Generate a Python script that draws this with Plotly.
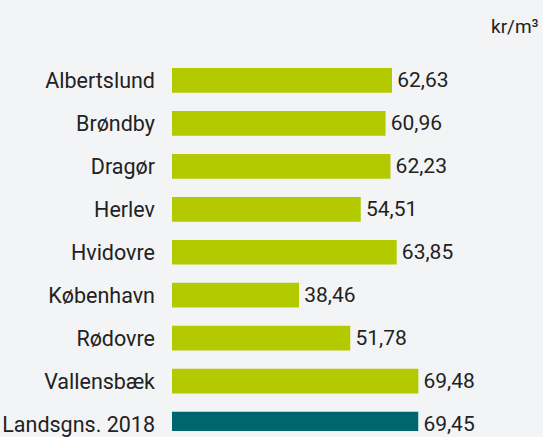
import plotly.graph_objects as go

categories = ["Albertslund", "Brøndby", "Dragør", "Herlev", "Hvidovre",
              "København", "Rødovre", "Vallensbæk", "Landsgns. 2018"]
values = [62.63, 60.96, 62.23, 54.51, 63.85, 38.46, 51.78, 69.48, 69.45]
unit_label = "kr/m³"

LIME = "#b3c900"
TEAL = "#00666e"
colors = [LIME] * 8 + [TEAL]

font_family = "Roboto, 'Open Sans', sans-serif"
text_color = "#222222"

fig = go.Figure(go.Bar(
    x=values,
    y=list(range(len(categories))),
    orientation="h",
    marker=dict(color=colors, line=dict(width=0)),
    texttemplate="\u200a%{x:.2f}",
    textposition="outside",
    textfont=dict(size=21, color=text_color, family=font_family),
    cliponaxis=False,
    width=0.575,
))

fig.update_layout(
    width=543, height=437,
    margin=dict(l=172, r=13, t=40, b=0),
    paper_bgcolor="#f3f4f6",
    plot_bgcolor="#f3f4f6",
    separators=", ",
    showlegend=False,
    font=dict(family=font_family, color=text_color, size=21),
    xaxis=dict(range=[5.45, 98.5], visible=False, fixedrange=True),
    yaxis=dict(
        range=[8.16, -0.94],
        tickmode="array",
        tickvals=list(range(len(categories))),
        ticktext=categories,
        showgrid=False, zeroline=False, showline=False,
        ticks="", ticklabelstandoff=16,
        ticklabeloverflow="allow",
        tickfont=dict(size=21.5, color=text_color, family=font_family),
    ),
    annotations=[dict(
        text=unit_label, xref="paper", yref="paper", x=1.03, y=1.035,
        xanchor="right", yanchor="middle", showarrow=False,
        font=dict(size=19, color=text_color, family=font_family),
    )],
)

fig.write_html(
    "out.html",
    config={"displayModeBar": False},
    post_script="document.body.style.margin='0';document.body.style.overflow='hidden';",
)
